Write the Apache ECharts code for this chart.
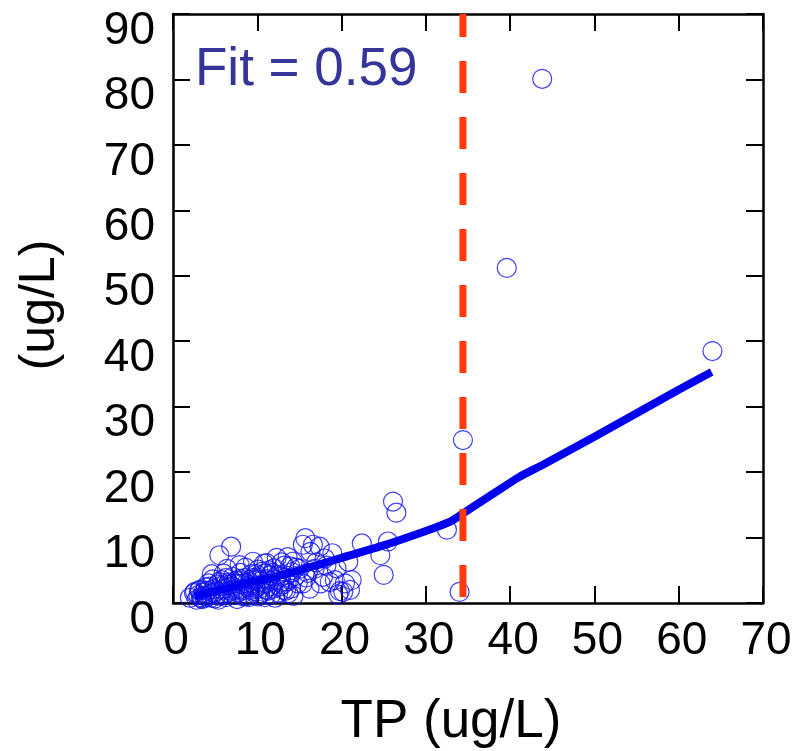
<!DOCTYPE html>
<html><head><meta charset="utf-8">
<script src="https://cdn.jsdelivr.net/npm/echarts@6/dist/echarts.min.js"></script>
<style>html,body{margin:0;padding:0;background:#fff}#c{width:806px;height:751px}</style>
</head><body><div id="c"></div>
<script>
const xTicks = [0, 10, 20, 30, 40, 50, 60, 70];
const yTicks = [0, 10, 20, 30, 40, 50, 60, 70, 80, 90];
const xTitle = 'TP (ug/L)';
const yTitle = '(ug/L)';
const fitLabel = 'Fit = 0.59';

const tpObs = [2.0,2.5,2.6,2.8,3.0,3.2,3.3,3.4,3.5,3.6,3.9,4.0,4.1,4.2,4.4,4.6,4.7,4.8,5.0,5.1,
  5.2,5.3,5.4,5.5,5.6,5.7,5.8,6.0,6.1,6.2,6.3,6.4,6.5,6.6,6.8,6.9,7.0,7.1,7.2,7.3,
  7.5,7.6,7.7,7.8,7.9,8.0,8.1,8.2,8.3,8.5,8.6,8.7,8.8,8.9,9.0,9.1,9.2,9.3,9.5,9.6,
  9.7,9.8,9.9,10.0,10.1,10.2,10.3,10.5,10.6,10.7,10.8,10.9,11.0,11.1,11.2,11.3,11.4,11.5,11.7,11.8,
  12.0,12.1,12.2,12.3,12.5,12.6,12.8,12.9,13.0,13.2,13.3,13.5,13.6,13.7,13.9,14.0,14.2,14.3,14.5,14.6,
  14.8,15.0,15.4,15.4,15.7,15.8,16.0,16.2,16.3,16.6,16.8,17.0,17.4,17.5,17.8,18.0,18.2,18.6,18.9,19.2,
  19.4,19.6,19.8,20.2,20.4,20.8,21.0,21.2,22.4,24.6,25.0,25.5,26.1,26.5,32.5,34.0,34.4,39.6,43.8,64.0,
  3.1,3.7,4.3,4.9,5.5,6.0,6.7,7.4,8.0,8.4,9.0,9.4,10.4,11.0,11.6,12.4,13.1,13.8,6.2,7.9,
  9.8,10.9,12.7,14.1,4.5,5.9,8.3,10.1,11.9,13.4];
const chlObs = [0.8,1.5,1.7,0.5,1.2,2.0,0.9,0.7,0.6,1.6,2.4,0.9,1.9,3.0,1.4,4.4,3.6,2.1,0.7,1.8,
  1.3,2.8,0.5,7.3,1.1,2.6,3.5,4.5,2.2,3.8,0.9,5.2,1.6,3.1,1.9,8.6,2.5,4.0,3.0,1.2,
  3.4,0.6,1.6,2.0,5.8,4.6,2.9,2.2,1.5,3.8,5.4,3.0,2.4,1.1,0.9,3.2,2.0,4.4,6.3,1.8,
  3.5,2.7,4.4,3.9,5.1,2.6,1.3,2.3,4.8,1.7,6.0,0.9,3.0,6.1,3.6,1.9,5.0,4.2,2.6,4.6,
  5.3,0.8,3.5,6.9,1.6,2.5,4.0,6.2,2.8,5.7,3.9,3.3,7.0,1.5,5.6,2.2,6.3,1.1,4.1,5.4,
  3.0,5.2,3.0,8.9,9.9,3.9,4.6,2.2,7.8,8.9,5.2,6.2,8.6,3.0,4.0,6.8,5.7,3.2,7.6,3.5,
  5.3,1.3,1.8,1.7,3.0,6.3,2.0,3.5,9.1,7.3,4.3,9.4,15.5,13.8,11.2,1.7,24.9,51.2,80.1,38.5,
  1.9,1.1,2.5,1.6,3.2,1.3,2.8,2.1,3.4,1.0,2.6,3.8,3.3,2.1,1.2,4.3,2.0,3.6,2.9,3.7,
  2.3,4.5,3.1,4.7,0.8,2.0,1.9,1.0,2.2,1.9];

const fitTP  = [2.6, 5, 8, 12, 15, 20, 25, 30, 33, 35, 38, 41, 44, 50, 55, 60, 63.9];
const fitChl = [1.0, 1.8, 2.8, 4.0, 5.0, 6.9, 8.8, 11.0, 12.5, 14.2, 16.7, 19.2, 21.2, 25.4, 29.0, 32.6, 35.3];

const thresholdTP = [34.4, 34.4];
const thresholdChl = [0, 90];

const FONT = '"Liberation Sans", Arial, Helvetica, sans-serif';
const chart = echarts.init(document.getElementById('c'), null, {renderer: 'canvas'});

function axis(extra) {
  return Object.assign({
    type: 'value', min: 0, interval: 10,
    axisLine: {show: true, onZero: false, lineStyle: {color: '#000', width: 2.5}},
    axisTick: {show: true, inside: true, length: 17, lineStyle: {color: '#000', width: 2}},
    axisLabel: {show: false},
    splitLine: {show: false}
  }, extra);
}

chart.setOption({
  animation: false,
  backgroundColor: '#fff',
  grid: {left: 173, top: 14, right: 43, bottom: 148},
  xAxis: [axis({max: 70, position: 'bottom'}), axis({max: 70, position: 'top'})],
  yAxis: [axis({max: 90, position: 'left'}), axis({max: 90, position: 'right'})],
  series: [
    {
      type: 'scatter', z: 2,
      data: tpObs.map((v, i) => [v, chlObs[i]]),
      symbol: 'circle', symbolSize: 19,
      itemStyle: {color: 'rgba(0,0,0,0)', borderColor: '#1010f0', borderWidth: 1.2}
    },
    {
      type: 'line', z: 3,
      data: fitTP.map((v, i) => [v, fitChl[i]]),
      smooth: 0.2, showSymbol: false, symbol: 'none',
      lineStyle: {color: '#0000ee', width: 8, cap: 'butt'}
    },
    {
      type: 'line', z: 4,
      data: thresholdTP.map((v, i) => [v, thresholdChl[i]]),
      showSymbol: false, symbol: 'none',
      lineStyle: {color: '#ff3a0a', width: 7, type: [32, 24], dashOffset: 50, cap: 'butt'}
    }
  ]
});

const g = [];
xTicks.forEach(v => {
  const p = chart.convertToPixel({xAxisIndex: 0, yAxisIndex: 0}, [v, 0]);
  g.push({type: 'text', x: p[0] + 3, y: p[1] + 38, silent: true,
    style: {text: String(v), font: '46px ' + FONT, fill: '#000',
      align: 'center', verticalAlign: 'middle', textAlign: 'center', textVerticalAlign: 'middle'}});
});
yTicks.forEach(v => {
  const p = chart.convertToPixel({xAxisIndex: 0, yAxisIndex: 0}, [0, v]);
  g.push({type: 'text', x: p[0] - 18, y: p[1] + 17, silent: true,
    style: {text: String(v), font: '46px ' + FONT, fill: '#000',
      align: 'right', verticalAlign: 'middle', textAlign: 'right', textVerticalAlign: 'middle'}});
});
g.push({type: 'text', x: 451, y: 722, silent: true,
  style: {text: xTitle, font: '53px ' + FONT, fill: '#000',
    align: 'center', verticalAlign: 'middle', textAlign: 'center', textVerticalAlign: 'middle'}});
g.push({type: 'text', x: 40, y: 305, rotation: Math.PI / 2, silent: true,
  style: {text: yTitle, font: '50px ' + FONT, fill: '#000',
    align: 'center', verticalAlign: 'middle', textAlign: 'center', textVerticalAlign: 'middle'}});
g.push({type: 'text', x: 195, y: 70, silent: true,
  style: {text: fitLabel, font: '53px ' + FONT, fill: '#343499',
    align: 'left', verticalAlign: 'middle', textAlign: 'left', textVerticalAlign: 'middle'}});
chart.setOption({graphic: g});
</script>
</body></html>
